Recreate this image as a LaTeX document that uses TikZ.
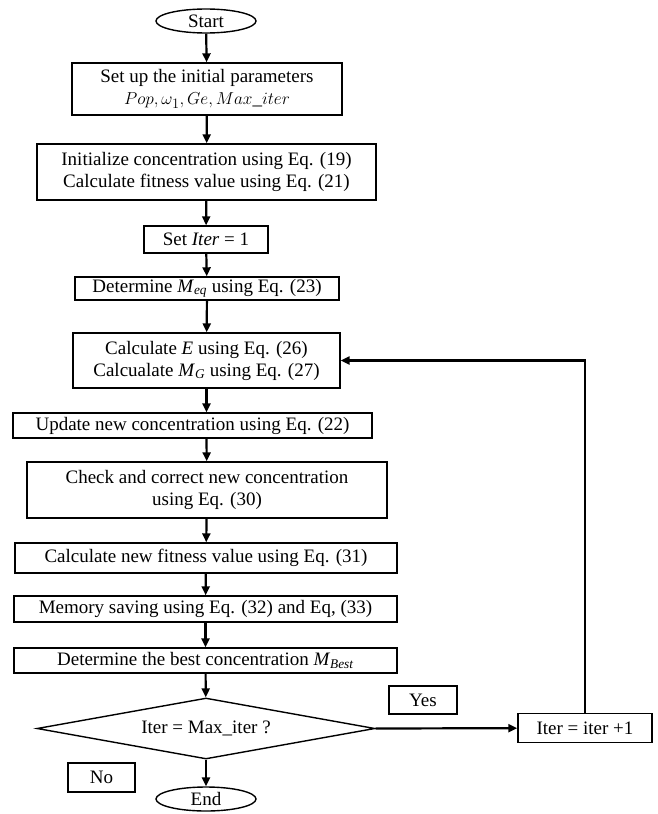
\documentclass[tikz,border=0pt]{standalone}
\usepackage{fontspec}
\setmainfont{Liberation Serif}
\usetikzlibrary{arrows.meta,shapes.geometric}
\newcommand{\Msub}[1]{\textit{M}\textsubscript{\textit{#1}}}
\tikzset{
  >={Triangle[length=9pt,width=8pt]},
  box/.style ={draw,line width=1.4pt,align=center,inner sep=0pt,
               font=\fontsize{19}{22}\selectfont},
  term/.style={ellipse,draw,line width=1.4pt,inner sep=0pt,minimum width=100,
               minimum height=24,font=\fontsize{19}{22}\selectfont},
  dec/.style ={diamond,draw,line width=1.4pt,inner sep=0pt,aspect=5.5,
               minimum width=338,minimum height=61,font=\fontsize{19}{22}\selectfont},
  ar/.style  ={->,line width=2.2pt},
}
\begin{document}
\begin{tikzpicture}[x=1pt,y=-1pt]
\useasboundingbox (0,0) rectangle (658,814);
\node[term] (start) at (206,21) {Start};
\node[box,minimum width=270,minimum height=52] (init) at (207,89)
  {Set up the initial parameters\\ $Pop, \omega_1, Ge, Max\_iter$};
\node[box,minimum width=339,minimum height=56] (conc) at (206.5,172)
  {Initialize concentration using Eq. (19)\\ Calculate fitness value using Eq. (21)};
\node[box,minimum width=124,minimum height=27] (set) at (206,239.5) {Set \textit{Iter} = 1};
\node[box,minimum width=264,minimum height=23] (meq) at (207,288.5)
  {Determine \Msub{eq} using Eq. (23)};
\node[box,minimum width=267,minimum height=55] (calc) at (206.5,360.5)
  {Calculate \textit{E} using Eq. (26)\\ Calcualate \Msub{G} using Eq. (27)};
\node[box,minimum width=359,minimum height=25] (upd) at (192.5,425.5)
  {Update new concentration using Eq. (22)};
\node[box,minimum width=360,minimum height=56] (chk) at (207,490)
  {Check and correct new concentration\\ using Eq. (30)};
\node[box,minimum width=382,minimum height=30] (fit) at (206,558)
  {Calculate new fitness value using Eq. (31)};
\node[box,minimum width=383,minimum height=26] (mem) at (205.5,609)
  {Memory saving using Eq. (32) and Eq, (33)};
\node[box,minimum width=383,minimum height=25] (best) at (205.5,660.5)
  {Determine the best concentration \Msub{Best}};
\node[dec] (dec) at (206,728.5) {Iter = Max\_iter ?};
\node[term] (end) at (206,799) {End};

% loop back
\node[box,minimum width=134,minimum height=29] (inc) at (585,728) {Iter = iter +1};
\node[box,minimum width=68,minimum height=28] (yes) at (423,700) {Yes};
\node[box,minimum width=67,minimum height=29] (no) at (101.5,777.5) {No};

\draw[ar] (start) -- (init);
\draw[ar] (init) -- (conc);
\draw[ar] (conc) -- (set);
\draw[ar] (set) -- (meq);
\draw[ar] (meq) -- (calc);
\draw[ar] (calc) -- (calc |- upd.north);
\draw[ar] (calc |- upd.south) -- (chk);
\draw[ar] (chk) -- (fit);
\draw[ar] (fit) -- (mem);
\draw[ar] (mem) -- (best);
\draw[ar] (best) -- (dec);
\draw[ar] (dec) -- (end);
\draw[ar] (dec.east) -- (inc);
\draw[ar] (inc) |- (calc);
\end{tikzpicture}
\end{document}
